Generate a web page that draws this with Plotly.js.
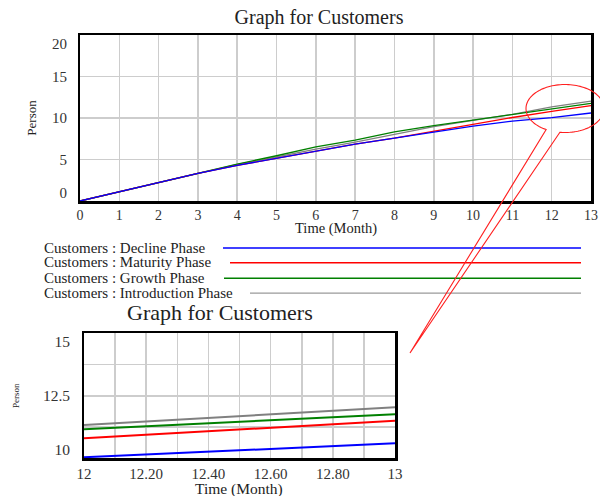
<!DOCTYPE html>
<html><head><meta charset="utf-8">
<script src="https://cdn.plot.ly/plotly-3.0.1.min.js"></script>
<style>html,body{margin:0;padding:0;background:#fff}#chart{width:600px;height:496px}</style>
</head><body><div id="chart"></div>
<script>
// ---- data ----
const seriesNames = ["Customers : Decline Phase", "Customers : Maturity Phase", "Customers : Growth Phase", "Customers : Introduction Phase"];
const months = [0, 1, 2, 3, 4, 5, 6, 7, 8, 9, 10, 11, 12, 13];
const declinePhase      = [0, 1.1, 2.2, 3.33, 4.29, 5.13, 6.05, 6.85, 7.57, 8.3, 9.03, 9.62, 10.04, 10.6];
const maturityPhase     = [0, 1.1, 2.2, 3.33, 4.29, 5.13, 6.05, 6.85, 7.57, 8.42, 9.27, 10.06, 10.8, 11.5];
const growthPhase       = [0, 1.1, 2.2, 3.33, 4.45, 5.45, 6.53, 7.33, 8.32, 9.07, 9.74, 10.4, 11.16, 11.76];
const introductionPhase = [0, 1.1, 2.2, 3.33, 4.4, 5.3, 6.25, 7.09, 8.05, 8.95, 9.72, 10.45, 11.33, 12.04];
const zoomMonths       = [12, 12.25, 12.5, 12.75, 13];
const zoomDecline      = [10.04, 10.18, 10.32, 10.46, 10.6];
const zoomMaturity     = [10.8, 10.98, 11.15, 11.33, 11.5];
const zoomGrowth       = [11.16, 11.31, 11.46, 11.61, 11.76];
const zoomIntroduction = [11.33, 11.51, 11.69, 11.86, 12.04];
const mainYTicks = [0, 5, 10, 15, 20];
const mainYTickText = ["0", "5", "10", "15", "20"];
const zoomXTicks = [12, 12.2, 12.4, 12.6, 12.8, 13];
const zoomXTickText = ["12", "12.20", "12.40", "12.60", "12.80", "13"];
const zoomYTicks = [10, 12.5, 15];
const zoomYTickText = ["10", "12.5", "15"];

// ---- styles ----
const colors = ["#0000ff", "#ff0000", "#008000", "#808080"];
const FONT = "Liberation Serif, Times New Roman, serif";
const W = 600, H = 496;
const px = x => x / W, py = y => 1 - y / H;
const GRID = "#cdcdcd";

// Vensim nudges the first/last y labels inward
function insetEdges(vals, lo, hi, frac) {
  return vals.map(v => v === lo ? v + (hi - lo) * frac : (v === hi ? v - (hi - lo) * frac : v));
}

const mainSeries = [declinePhase, maturityPhase, growthPhase, introductionPhase];
const zoomSeries = [zoomDecline, zoomMaturity, zoomGrowth, zoomIntroduction];
const traces = [];
[3, 2, 1, 0].forEach(i => {
  traces.push({x: months, y: mainSeries[i], type: "scatter", mode: "lines", name: seriesNames[i],
    line: {color: colors[i], width: 1.3}, xaxis: "x", yaxis: "y", hoverinfo: "skip"});
});
[3, 2, 1, 0].forEach(i => {
  traces.push({x: zoomMonths, y: zoomSeries[i], type: "scatter", mode: "lines", name: seriesNames[i],
    line: {color: colors[i], width: 2}, xaxis: "x2", yaxis: "y2", hoverinfo: "skip"});
});
// attach (invisible) the label axes so Plotly draws them
traces.push({x: months, y: declinePhase, type: "scatter", mode: "none", xaxis: "x", yaxis: "y3", hoverinfo: "skip", showlegend: false});
traces.push({x: zoomMonths, y: zoomDecline, type: "scatter", mode: "none", xaxis: "x2", yaxis: "y4", hoverinfo: "skip", showlegend: false});

// legend (Vensim style: text then a line)
const legendRowsY = [247.5, 262.3, 277.8, 292.6];
const legendLineStart = [223, 230, 224, 250];
const annotations = seriesNames.map((n, i) => ({
  text: n, xref: "paper", yref: "paper", x: px(42), y: py(legendRowsY[i]), xanchor: "left", yanchor: "middle",
  showarrow: false, font: {family: FONT, size: 15, color: "#222"}
}));
annotations.push({text: "Graph for Customers", xref: "paper", yref: "paper", x: px(219.5), y: py(312.5),
  xanchor: "center", yanchor: "middle", showarrow: false, font: {family: FONT, size: 22, color: "#222"}});
annotations.push({text: "Time (Month)", xref: "paper", yref: "paper", x: px(336), y: py(228),
  xanchor: "center", yanchor: "middle", showarrow: false, font: {family: FONT, size: 14.5, color: "#222"}});
annotations.push({text: "Time (Month)", xref: "paper", yref: "paper", x: px(239), y: py(489),
  xanchor: "center", yanchor: "middle", showarrow: false, font: {family: FONT, size: 15.5, color: "#222"}});

const shapes = seriesNames.map((n, i) => ({
  type: "line", xref: "paper", yref: "paper", x0: px(legendLineStart[i]), x1: px(581),
  y0: py(legendRowsY[i] + 0.5), y1: py(legendRowsY[i] + 0.5),
  line: {color: colors[i], width: i === 3 ? 1 : 1.5}
}));

// callout: ellipse with tail
(function () {
  const cx = 565, cy = 108.5, rx = 39, ry = 24, tip = [410, 353];
  const a0 = 118.9, a1 = 360 + 97.5;
  let d = "M" + px(tip[0]) + "," + py(tip[1]);
  for (let a = a0; a <= a1 + 0.001; a += 3) {
    const t = a * Math.PI / 180;
    d += " L" + px(cx + rx * Math.cos(t)) + "," + py(cy + ry * Math.sin(t));
  }
  const tEnd = a1 * Math.PI / 180;
  d += " L" + px(cx + rx * Math.cos(tEnd)) + "," + py(cy + ry * Math.sin(tEnd));
  d += " L" + px(tip[0]) + "," + py(tip[1]);
  shapes.push({type: "path", xref: "paper", yref: "paper", path: d, line: {color: "#ff2020", width: 1.1}});
})();

const axBase = {showline: true, mirror: true, linecolor: "#000", linewidth: 2.5, zeroline: false,
  ticks: "", fixedrange: true, gridcolor: GRID, gridwidth: 1.6};

const layout = {
  width: W, height: H, margin: {l: 0, r: 0, t: 0, b: 0}, paper_bgcolor: "#fff", plot_bgcolor: "#fff",
  showlegend: false, font: {family: FONT, color: "#222", size: 14},
  title: {text: "Graph for Customers", font: {family: FONT, size: 20, color: "#222"},
    x: px(319), xref: "container", xanchor: "center", y: py(16.5), yref: "container", yanchor: "middle"},
  xaxis: Object.assign({}, axBase, {domain: [px(80), px(591)], anchor: "y", range: [0, 13], dtick: 1, tick0: 0,
    showgrid: true, tickfont: {size: 14, color: "#333"}}),
  yaxis: Object.assign({}, axBase, {domain: [py(201), py(35)], anchor: "x", range: [0, 20], dtick: 5, tick0: 0,
    showgrid: true, showticklabels: false}),
  yaxis3: {overlaying: "y", anchor: "x", side: "left", range: [0, 20], tickmode: "array",
    tickvals: insetEdges(mainYTicks, 0, 20, 0.05), ticktext: mainYTickText, showgrid: false, showline: false,
    zeroline: false, ticks: "", ticklabelstandoff: 12, fixedrange: true, tickfont: {size: 15, color: "#333"},
    title: {text: "Person", font: {size: 13}, standoff: 12}},
  xaxis2: Object.assign({}, axBase, {domain: [px(84), px(395)], anchor: "y2", range: [12, 13], tickmode: "array",
    tickvals: zoomXTicks, ticktext: zoomXTickText, showgrid: true,
    minor: {tick0: 12, dtick: 0.1, showgrid: true, gridcolor: GRID, gridwidth: 1.6, ticks: ""},
    tickfont: {size: 15, color: "#333"}}),
  yaxis2: Object.assign({}, axBase, {domain: [py(458.3), py(333.3)], anchor: "x2", range: [10, 15], dtick: 1.25, tick0: 10,
    showgrid: true, showticklabels: false}),
  yaxis4: {overlaying: "y2", anchor: "x2", side: "left", range: [10, 15], tickmode: "array",
    tickvals: insetEdges(zoomYTicks, 10, 15, 0.067), ticktext: zoomYTickText, showgrid: false, showline: false,
    zeroline: false, ticks: "", ticklabelstandoff: 13, fixedrange: true, tickfont: {size: 15.5, color: "#333"},
    title: {text: "Person", font: {size: 9}, standoff: 21}},
  annotations: annotations,
  shapes: shapes
};

Plotly.newPlot("chart", traces, layout, {staticPlot: true, displayModeBar: false});
</script>
</body></html>
